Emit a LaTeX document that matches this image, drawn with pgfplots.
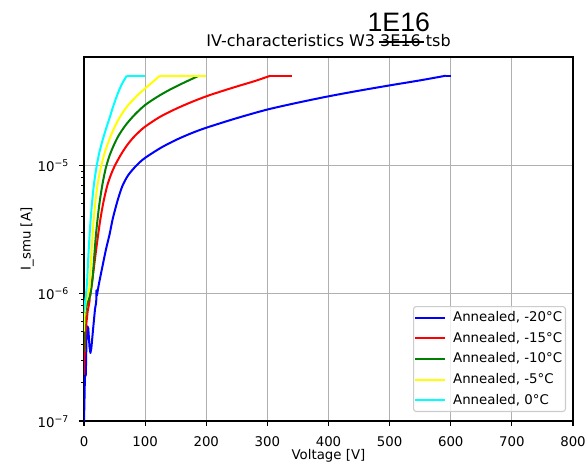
\documentclass[border=0pt]{standalone}
\usepackage{fontspec}
\setmainfont{DejaVu Sans}
\newfontfamily\annotfont{Liberation Sans}
\usepackage{pgfplots}
\pgfplotsset{compat=1.18}

\definecolor{gridgray}{RGB}{176,176,176}
\definecolor{cblue}{RGB}{0,0,255}
\definecolor{cred}{RGB}{255,0,0}
\definecolor{cgreen}{RGB}{0,128,0}
\definecolor{cyellow}{RGB}{255,255,0}
\definecolor{ccyan}{RGB}{0,255,255}
\definecolor{legframe}{RGB}{204,204,204}

% struck-through text
\newcommand\strk[1]{\setbox0=\hbox{#1}\rlap{\kern-0.6pt\rule[3.1pt]{\dimexpr\wd0+2.8pt\relax}{1.25pt}}\box0\relax}

\begin{document}
\begin{tikzpicture}[x=1pt,y=1pt]
\useasboundingbox (-63,-33) rectangle (378,315.75);
\begin{axis}[
  at={(0,0)}, anchor=south west, scale only axis,
  width=366.75pt, height=273pt,
  ymode=log,
  xmin=0, xmax=800, ymin=1e-7, ymax=7e-5,
  xtick={0,100,...,800},
  ytick={1e-7,1e-6,1e-5},
  yticklabels={10\textsuperscript{−7},10\textsuperscript{−6},10\textsuperscript{−5}},
  /pgf/number format/assume math mode=true,
  tick pos=left, tick align=outside,
  major tick length=3.5pt, minor tick length=2pt,
  every tick/.style={black, line width=0.8pt},
  every minor tick/.style={black, line width=0.6pt},
  axis line style={black, line width=0.8pt},
  xmajorgrids, ymajorgrids,
  major grid style={gridgray, line width=0.8pt},
  tick label style={font=\fontsize{10}{12}\selectfont},
  xticklabel style={anchor=base, yshift=-15.75pt},
  yticklabel style={anchor=base east, xshift=-4.17pt, yshift=-5pt},
  label style={font=\fontsize{10}{12}\selectfont},
  xlabel={Voltage [V]},
  xlabel style={at={(axis description cs:0.5,-0.1044)}, anchor=base},
  ylabel={I\_smu [A]},
  ylabel style={at={(axis description cs:-0.1162,0.5)}, anchor=center},
  every axis plot/.append style={line width=1.5pt, line join=round, mark=none},
  legend cell align=left,
  legend image code/.code={\draw[#1] (0pt,0pt) -- (22pt,0pt);},
  legend style={at={(1,0)}, anchor=south east, xshift=-5.25pt, yshift=6.75pt,
    draw=legframe, line width=0.8pt, rounded corners=2pt,
    fill=white, fill opacity=0.8, text opacity=1,
    font=\fontsize{10}{12}\selectfont,
    inner xsep=0.5pt, inner ysep=1.6pt, row sep=2pt, column sep=3.7pt,
    nodes={text height=7.5pt, text depth=2pt, inner sep=2pt}},
]
% ---------- -20 C ----------
\addplot[cblue, forget plot] coordinates {
 (0,1.0e-7) (0.7,1.4e-7) (1.5,2.2e-7) (3,2.3e-7) (4,4.2e-7) (5.5,5.5e-7)
 (7,5.3e-7) (9,3.8e-7) (10.5,3.4e-7) (12,3.7e-7) (15,5.3e-7) (18,7.5e-7)
 (20,8.5e-7) (20.3,1.05e-6) (21,9.5e-7)
};
\addplot[cblue, forget plot] coordinates {(592,5.0e-5) (600,5.0e-5)};
\addplot[cblue, smooth, tension=0.5] coordinates {
 (21,9.5e-7) (24,1.15e-6) (30,1.6e-6) (36,2.2e-6) (42,2.9e-6) (47,3.8e-6)
 (55,5.3e-6) (63,6.9e-6) (72,8.3e-6) (82,9.5e-6) (91,1.05e-5) (100,1.14e-5)
 (125,1.36e-5) (150,1.57e-5) (175,1.77e-5) (200,1.96e-5) (250,2.33e-5)
 (300,2.72e-5) (350,3.08e-5) (400,3.45e-5) (450,3.82e-5) (500,4.2e-5)
 (550,4.6e-5) (592,5.0e-5)
};
\addlegendentry{Annealed, -20°C}
% ---------- -15 C ----------
\addplot[cred, forget plot] coordinates {
 (0,2.3e-7) (1,3.5e-7) (3,5.3e-7) (6,7.2e-7) (9,8.6e-7) (9.5,1.0e-6) (10,9.5e-7)
};
\addplot[cred, forget plot] coordinates {(305,5.0e-5) (340,5.0e-5)};
\addplot[cred, smooth, tension=0.5] coordinates {
 (10,9.5e-7) (13,1.2e-6) (17,1.7e-6) (21,2.4e-6) (26.5,3.7e-6) (32,5.2e-6)
 (38,6.9e-6) (44,8.4e-6) (50,9.8e-6) (60,1.2e-5) (70,1.42e-5) (80,1.63e-5)
 (90,1.82e-5) (100,2.0e-5) (124,2.38e-5) (150,2.75e-5) (175,3.1e-5)
 (200,3.45e-5) (225,3.78e-5) (250,4.12e-5) (280,4.55e-5) (305,5.0e-5)
};
\addlegendentry{Annealed, -15°C}
% ---------- -10 C ----------
\addplot[cgreen, forget plot] coordinates {
 (0,3.5e-7) (1,5.5e-7) (3,7.5e-7) (6,8.5e-7) (10,9.5e-7)
};
\addplot[cgreen, forget plot] coordinates {(188,5.0e-5) (200,5.0e-5)};
\addplot[cgreen, smooth, tension=0.5] coordinates {
 (10,9.5e-7) (14,1.3e-6) (17,2.0e-6) (20,3.0e-6) (25,4.9e-6) (30,7.0e-6)
 (35,9.2e-6) (40,1.12e-5) (45,1.3e-5) (55,1.65e-5) (68,2.05e-5) (83,2.48e-5)
 (100,2.95e-5) (120,3.42e-5) (140,3.88e-5) (160,4.33e-5) (175,4.68e-5)
 (188,5.0e-5)
};
\addlegendentry{Annealed, -10°C}
% ---------- -5 C ----------
\addplot[cyellow, forget plot] coordinates {
 (0,5e-7) (1,7e-7) (3,8.5e-7) (6,9.5e-7) (9,1.1e-6)
};
\addplot[cyellow, forget plot] coordinates {(124,5.0e-5) (200,5.0e-5)};
\addplot[cyellow, smooth, tension=0.5] coordinates {
 (9,1.1e-6) (11,1.65e-6) (13,2.4e-6) (16,3.8e-6) (20,5.9e-6) (24,7.9e-6)
 (28,9.8e-6) (35,1.3e-5) (45,1.75e-5) (57,2.3e-5) (70,2.85e-5) (85,3.42e-5)
 (100,3.98e-5) (112,4.45e-5) (124,5.0e-5)
};
\addlegendentry{Annealed, -5°C}
% ---------- 0 C ----------
\addplot[ccyan, forget plot] coordinates {
 (0,7e-7) (1,8e-7) (3,9.5e-7) (5,1.2e-6)
};
\addplot[ccyan, forget plot] coordinates {(70,5.0e-5) (100,5.0e-5)};
\addplot[ccyan, smooth, tension=0.5] coordinates {
 (5,1.2e-6) (7,1.9e-6) (10,3.3e-6) (13,5.0e-6) (16,6.9e-6) (20,9.4e-6)
 (25,1.25e-5) (31,1.6e-5) (36,1.92e-5) (42,2.35e-5) (48,2.9e-5) (55,3.6e-5)
 (62,4.3e-5) (70,5.0e-5)
};
\addlegendentry{Annealed, 0°C}
\end{axis}
\node[anchor=base, inner sep=0pt, font=\fontsize{12}{14}\selectfont] at (183.4,280.7)
  {IV-characteristics W3 \strk{3E16} tsb};
\node[anchor=base, inner sep=0pt, font=\annotfont\fontsize{20}{24}\selectfont] at (236.1,292) {1E16};
\end{tikzpicture}
\end{document}
